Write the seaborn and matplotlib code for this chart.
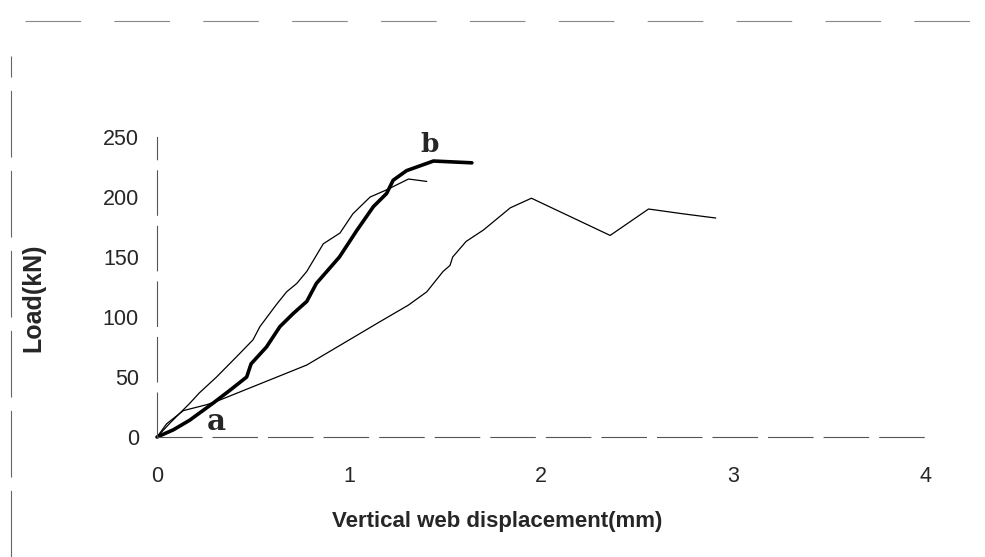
import matplotlib
matplotlib.use("Agg")
import matplotlib.pyplot as plt
import matplotlib.lines as mlines
import seaborn as sns
import pandas as pd

# Load-displacement readings (displacement in mm, load in kN)
disp_thin = [0, 0.068, 0.12, 0.17, 0.22, 0.31, 0.415, 0.50, 0.536, 0.62, 0.675, 0.728,
             0.78, 0.866, 0.953, 1.02, 1.11, 1.196, 1.31, 1.405]
load_thin = [0, 11.7, 20, 28, 36.7, 50, 67, 81, 92, 110, 121, 128,
             138, 161, 170, 186, 200, 206, 215, 213]

disp_thick = [0, 0.085, 0.17, 0.29, 0.38, 0.467, 0.49, 0.57, 0.64, 0.71, 0.78, 0.83,
              0.95, 1.04, 1.127, 1.196, 1.23, 1.30, 1.44, 1.64]
load_thick = [0, 6, 14, 28, 39, 50, 61, 75, 92, 103, 113, 128,
              150, 172, 192, 203, 214, 222, 230, 228.5]

disp_long = [0, 0.05, 0.137, 0.26, 0.33, 0.78, 1.16, 1.31, 1.405, 1.49, 1.526, 1.54,
             1.61, 1.70, 1.84, 1.95, 2.36, 2.56, 2.74, 2.91]
load_long = [0, 11, 22, 27, 31, 60, 96, 110, 121, 138, 143, 150,
             163, 172.5, 191, 199, 168, 190, 186, 182.5]

x_ticks = [0, 1, 2, 3, 4]
y_ticks = [0, 50, 100, 150, 200, 250]

sns.set_style("white")
plt.rcParams["font.family"] = ["Liberation Sans", "DejaVu Sans"]

fig = plt.figure(figsize=(9.85, 5.57), dpi=100)
ax = fig.add_axes([0.1594, 0.2154, 0.7797, 0.5386])

df_thin = pd.DataFrame({"d": disp_thin, "p": load_thin})
df_thick = pd.DataFrame({"d": disp_thick, "p": load_thick})
df_long = pd.DataFrame({"d": disp_long, "p": load_long})

sns.lineplot(data=df_long, x="d", y="p", sort=False, estimator=None, ax=ax,
             color="black", linewidth=0.9, clip_on=False)
sns.lineplot(data=df_thin, x="d", y="p", sort=False, estimator=None, ax=ax,
             color="black", linewidth=0.9, clip_on=False)
sns.lineplot(data=df_thick, x="d", y="p", sort=False, estimator=None, ax=ax,
             color="black", linewidth=2.6, clip_on=False, solid_capstyle="round")

ax.set_xlim(0, 4)
ax.set_ylim(0, 250)
ax.set_xticks(x_ticks)
ax.set_yticks(y_ticks)
ax.set_xticklabels([str(v) for v in x_ticks])
ax.set_yticklabels([str(v) for v in y_ticks])

for side in ("top", "right"):
    ax.spines[side].set_visible(False)
for side in ("left", "bottom"):
    ax.spines[side].set_color("#555555")
    ax.spines[side].set_linewidth(0.8)
    ax.spines[side].set_linestyle((0, (40, 10)))

ax.tick_params(axis="x", direction="out", length=8, width=0.8, color="#555555",
               pad=13, labelsize=15.5)
ax.tick_params(axis="y", direction="out", length=4, width=0.8, color="#555555",
               pad=9, labelsize=15.5)

ax.set_xlabel("Vertical web displacement(mm)", fontsize=16, fontweight="bold")
ax.xaxis.set_label_coords(0.4427, -0.28)
ax.xaxis.label.set_va("center")

ax.set_ylabel("Load(kN)", fontsize=18, fontweight="bold")
ax.yaxis.set_label_coords(-0.1615, 0.463)
ax.yaxis.label.set_va("center")

ax.text(0.31, 5.5, "a", fontsize=21, fontweight="bold",
        family=["DejaVu Serif", "Liberation Serif"], ha="center", va="baseline")
ax.text(1.417, 237.5, "b", fontsize=19, fontweight="bold",
        family=["DejaVu Serif", "Liberation Serif"], ha="center", va="baseline")

# Outer chart border (left and top edges)
fig.add_artist(mlines.Line2D([0.011, 0.011], [0.0, 0.9], transform=fig.transFigure,
                             color="#666666", linewidth=0.8, linestyle=(0, (60, 12))))
fig.add_artist(mlines.Line2D([0.025, 1.0], [0.962, 0.962], transform=fig.transFigure,
                             color="#888888", linewidth=0.8, linestyle=(0, (50, 30))))

fig.savefig("out.png", dpi=100)
